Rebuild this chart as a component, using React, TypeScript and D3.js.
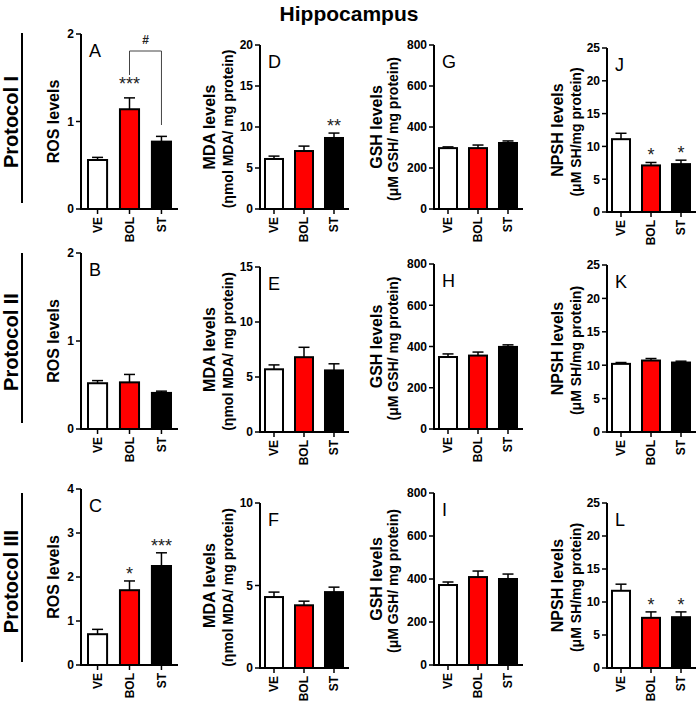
import React from "react";
import * as d3 from "d3";

// ---------- data ----------
const groups = ["VE", "BOL", "ST"];
const barColors = ["#ffffff", "#ff0000", "#000000"];

const rowLabels = ["Protocol I", "Protocol II", "Protocol III"];
const panelLetters = ["A", "D", "G", "J", "B", "E", "H", "K", "C", "F", "I", "L"];

const rosTicks2 = [0, 1, 2];
const rosTicks4 = [0, 1, 2, 3, 4];
const mdaTicks20 = [0, 5, 10, 15, 20];
const mdaTicks15 = [0, 5, 10, 15];
const mdaTicks10 = [0, 5, 10];
const gshTicks = [0, 200, 400, 600, 800];
const npshTicks = [0, 5, 10, 15, 20, 25];

// Protocol I
const rosA = [0.56, 1.14, 0.77];
const rosAErr = [0.03, 0.13, 0.06];
const sigA = ["", "***", ""];
const mdaD = [6.1, 7.07, 8.66];
const mdaDErr = [0.35, 0.6, 0.6];
const sigD = ["", "", "**"];
const gshG = [297, 297, 322];
const gshGErr = [6, 15, 10];
const sigG = ["", "", ""];
const npshJ = [11.1, 7.1, 7.3];
const npshJErr = [0.9, 0.45, 0.6];
const sigJ = ["", "*", "*"];
// Protocol II
const rosB = [0.52, 0.53, 0.41];
const rosBErr = [0.03, 0.09, 0.02];
const sigB = ["", "", ""];
const mdaE = [5.7, 6.8, 5.6];
const mdaEErr = [0.4, 0.9, 0.6];
const sigE = ["", "", ""];
const gshH = [349, 356, 398];
const gshHErr = [15, 17, 10];
const sigH = ["", "", ""];
const npshK = [10.2, 10.7, 10.4];
const npshKErr = [0.2, 0.3, 0.2];
const sigK = ["", "", ""];
// Protocol III
const rosC = [0.7, 1.7, 2.25];
const rosCErr = [0.11, 0.21, 0.3];
const sigC = ["", "*", "***"];
const mdaF = [4.3, 3.8, 4.6];
const mdaFErr = [0.3, 0.25, 0.3];
const sigF = ["", "", ""];
const gshI = [372, 409, 400];
const gshIErr = [14, 28, 23];
const sigI = ["", "", ""];
const npshL = [11.7, 7.6, 7.7];
const npshLErr = [1.0, 0.9, 0.8];
const sigL = ["", "*", "*"];

const yLabels = ["ROS levels", "MDA levels", "GSH levels", "NPSH levels"];
const ySubLabels = ["", "(\u03b7mol MDA/ mg protein)", "(\u03bcM GSH/ mg protein)", "(\u03bcM SH/mg protein)"];

// ---------- layout ----------
const FONT = "'Liberation Sans', Arial, Helvetica, sans-serif";
const colAxisX = [81, 260, 434, 607];
const labelOff = [28, 51, 58, 50];
const subOff = [0, 32, 41, 31];
const rowBounds = [
  [[34, 209], [45, 209], [45, 209], [48, 212]],
  [[253, 429], [267, 432], [264, 429], [265, 432]],
  [[489, 665], [503, 668], [493, 665], [503, 668]],
];
const rowLine = [[33, 203], [253, 423], [493, 662]];

const panelData = [
  [
    { v: rosA, e: rosAErr, s: sigA, t: rosTicks2 },
    { v: mdaD, e: mdaDErr, s: sigD, t: mdaTicks20 },
    { v: gshG, e: gshGErr, s: sigG, t: gshTicks },
    { v: npshJ, e: npshJErr, s: sigJ, t: npshTicks },
  ],
  [
    { v: rosB, e: rosBErr, s: sigB, t: rosTicks2 },
    { v: mdaE, e: mdaEErr, s: sigE, t: mdaTicks15 },
    { v: gshH, e: gshHErr, s: sigH, t: gshTicks },
    { v: npshK, e: npshKErr, s: sigK, t: npshTicks },
  ],
  [
    { v: rosC, e: rosCErr, s: sigC, t: rosTicks4 },
    { v: mdaF, e: mdaFErr, s: sigF, t: mdaTicks10 },
    { v: gshI, e: gshIErr, s: sigI, t: gshTicks },
    { v: npshL, e: npshLErr, s: sigL, t: npshTicks },
  ],
];

function Panel({ row, col }: { row: number; col: number }) {
  const d = panelData[row][col];
  const [top, bottom] = rowBounds[row][col];
  const ax = colAxisX[col];
  const y = d3.scaleLinear().domain([0, d.t[d.t.length - 1]]).range([bottom, top]);
  const x = d3
    .scaleBand<string>()
    .domain(groups)
    .range(col === 0 ? [ax + 6, ax + 91] : [ax + 4, ax + 84])
    .paddingInner(col === 0 ? 0.34 : 0.333)
    .paddingOuter(0);
  const axisEnd = col === 0 ? ax + 97 : ax + 89;
  const bw = x.bandwidth();
  const midY = (top + bottom) / 2;
  const letter = panelLetters[row * 4 + col];
  const sigGap = row === 0 && col === 0 ? 8 : 1;
  return (
    <g>
      {/* bars */}
      {groups.map((g, i) => {
        const x0 = x(g)!;
        const cx = x0 + bw / 2;
        const yt = y(d.v[i]);
        const ye = y(d.v[i] + d.e[i]);
        return (
          <g key={g}>
            <line x1={cx} x2={cx} y1={yt} y2={ye} stroke="#000" strokeWidth={1.5} />
            <line x1={cx - 5.5} x2={cx + 5.5} y1={ye} y2={ye} stroke="#000" strokeWidth={1.5} />
            <rect
              x={x0 + 1}
              y={yt}
              width={bw - 2}
              height={bottom - yt}
              fill={barColors[i]}
              stroke="#000"
              strokeWidth={2}
            />
            {d.s[i] && (
              <text
                x={cx}
                y={ye - sigGap}
                textAnchor="middle"
                fontFamily={FONT}
                fontSize={18}
                fill="#222"
              >
                {d.s[i]}
              </text>
            )}
          </g>
        );
      })}
      {/* y axis */}
      <line x1={ax} x2={ax} y1={top} y2={bottom + 1} stroke="#000" strokeWidth={2} />
      {d.t.map((t) => (
        <g key={t}>
          <line x1={ax - 5} x2={ax} y1={y(t)} y2={y(t)} stroke="#000" strokeWidth={1.5} />
          <text
            x={ax - 7}
            y={y(t)}
            dy="0.36em"
            textAnchor="end"
            fontFamily={FONT}
            fontWeight="bold"
            fontSize={12}
          >
            {t}
          </text>
        </g>
      ))}
      {/* x axis */}
      <line x1={ax - 1} x2={axisEnd} y1={bottom} y2={bottom} stroke="#000" strokeWidth={2} />
      {groups.map((g) => {
        const cx = x(g)! + bw / 2;
        return (
          <g key={g}>
            <line x1={cx} x2={cx} y1={bottom} y2={bottom + 5} stroke="#000" strokeWidth={1.5} />
            <text
              transform={`translate(${cx},${bottom + 8}) rotate(-90)`}
              dy="0.36em"
              textAnchor="end"
              fontFamily={FONT}
              fontWeight="bold"
              fontSize={12}
            >
              {g}
            </text>
          </g>
        );
      })}
      {/* labels */}
      <text
        transform={`translate(${ax - labelOff[col]},${midY}) rotate(-90)`}
        dy="0.36em"
        textAnchor="middle"
        fontFamily={FONT}
        fontWeight="bold"
        fontSize={16}
      >
        {yLabels[col]}
      </text>
      {ySubLabels[col] && (
        <text
          transform={`translate(${ax - subOff[col]},${midY + 2}) rotate(-90)`}
          dy="0.36em"
          textAnchor="middle"
          fontFamily={FONT}
          fontWeight="bold"
          fontSize={14}
        >
          {ySubLabels[col]}
        </text>
      )}
      <text x={ax + 8} y={top + 23} fontFamily={FONT} fontSize={18}>
        {letter}
      </text>
      {row === 0 && col === 0 && (
        <g>
          <path
            d={`M${x("BOL")! + bw / 2},${top + 41} V${top + 17} H${x("ST")! + bw / 2} V${top + 91}`}
            fill="none"
            stroke="#444"
            strokeWidth={1}
          />
          <text
            x={(x("BOL")! + x("ST")! + bw) / 2}
            y={top + 10}
            textAnchor="middle"
            fontFamily={FONT}
            fontWeight="bold"
            fontSize={12}
            fill="#222"
          >
            #
          </text>
        </g>
      )}
    </g>
  );
}

export default function App() {
  return (
    <svg
      width={699}
      height={702}
      style={{ position: "absolute", left: 0, top: 0, background: "#fff" }}
    >
      <rect width={699} height={702} fill="#fff" />
      <text
        x={349}
        y={21}
        textAnchor="middle"
        fontFamily={FONT}
        fontWeight="bold"
        fontSize={21}
      >
        Hippocampus
      </text>
      {rowLabels.map((lab, r) => {
        const [t, b] = rowLine[r];
        return (
          <g key={lab}>
            <line x1={22} x2={22} y1={t} y2={b} stroke="#000" strokeWidth={2} />
            <text
              transform={`translate(11,${(t + b) / 2 + 4}) rotate(-90)`}
              dy="0.36em"
              textAnchor="middle"
              fontFamily={FONT}
              fontWeight="bold"
              fontSize={20}
            >
              {lab}
            </text>
          </g>
        );
      })}
      {[0, 1, 2].map((r) => [0, 1, 2, 3].map((c) => <Panel key={`${r}-${c}`} row={r} col={c} />))}
    </svg>
  );
}
